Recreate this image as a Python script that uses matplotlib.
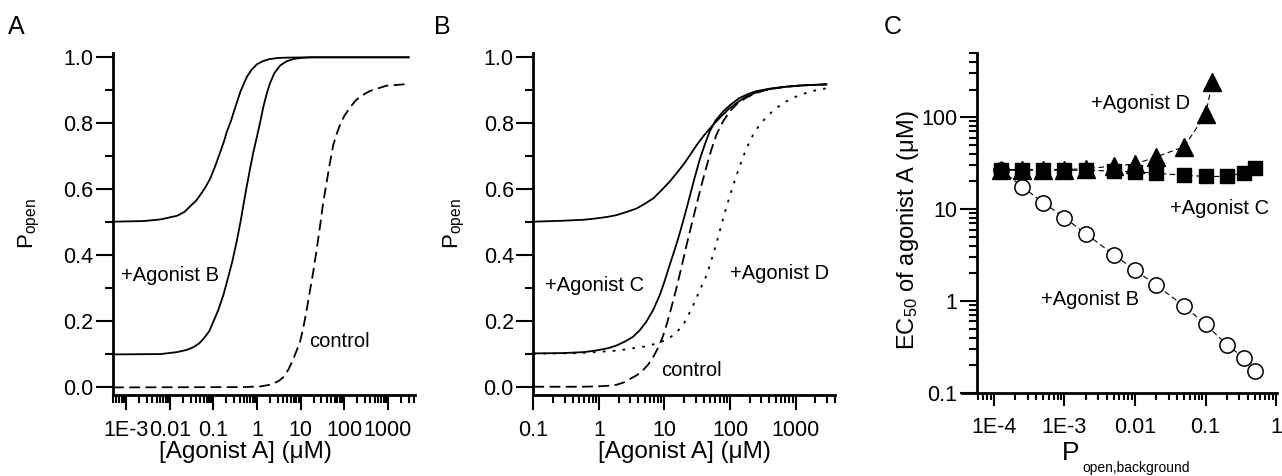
import matplotlib
matplotlib.use("Agg")
import matplotlib.pyplot as plt
import matplotlib.ticker as mticker

plt.rcParams["font.family"] = ["Liberation Sans", "DejaVu Sans"]
plt.rcParams["mathtext.fontset"] = "custom"
plt.rcParams["mathtext.rm"] = "Liberation Sans"
plt.rcParams["mathtext.it"] = "Liberation Sans:italic"

# ---- panel A: agonist B ----
a_x_b50 = [5e-4, 2.6e-3, 6.2e-3, 0.0148, 0.022, 0.03, 0.04, 0.05, 0.065, 0.085, 0.11, 0.145, 0.175,
           0.204, 0.25, 0.295, 0.35, 0.417, 0.5, 0.589, 0.75, 1.0, 1.35, 1.86, 3, 5, 20, 3000]
a_y_b50 = [0.502, 0.504, 0.509, 0.52, 0.532, 0.55, 0.565, 0.583, 0.605, 0.633, 0.67, 0.714, 0.745,
           0.775, 0.805, 0.835, 0.865, 0.896, 0.92, 0.941, 0.962, 0.979, 0.988, 0.994, 0.998, 0.999, 1.0, 1.0]
a_x_b10 = [5e-4, 6.2e-3, 0.0148, 0.025, 0.035, 0.047, 0.06, 0.08, 0.1, 0.13, 0.17, 0.21, 0.27, 0.34,
           0.42, 0.5, 0.59, 0.7, 0.83, 1.0, 1.19, 1.4, 1.7, 2.0, 2.5, 3.4, 4.8, 6.9, 10, 16.6, 3000]
a_y_b10 = [0.1, 0.101, 0.107, 0.114, 0.122, 0.133, 0.148, 0.17, 0.199, 0.235, 0.28, 0.325, 0.38, 0.44,
           0.502, 0.56, 0.613, 0.665, 0.714, 0.76, 0.805, 0.85, 0.893, 0.922, 0.952, 0.975, 0.988, 0.995,
           0.998, 1.0, 1.0]
a_x_ctrl = [5e-4, 0.5, 1.19, 1.8, 2.4, 3.2, 4.1, 5.3, 6.9, 8.3, 9.8, 11.7, 13.8, 16.5, 19.5, 23.5, 28,
            33, 40, 47, 56, 68, 80, 100, 136, 180, 230, 390, 930, 3000]
a_y_ctrl = [0.0, 0.001, 0.003, 0.007, 0.012, 0.02, 0.032, 0.055, 0.088, 0.115, 0.14, 0.185, 0.235,
            0.295, 0.35, 0.42, 0.49, 0.56, 0.625, 0.68, 0.734, 0.77, 0.795, 0.822, 0.848, 0.868, 0.881,
            0.898, 0.914, 0.919]

# ---- panel B: agonists C and D ----
b_x_top = [0.1, 0.29, 0.6, 0.92, 1.4, 1.86, 2.7, 3.77, 5, 6.8, 9, 12, 15.5, 20, 25, 31, 40, 55, 75,
           98, 135, 178, 240, 324, 480, 724, 1300, 2950]
b_y_top = [0.502, 0.505, 0.508, 0.512, 0.517, 0.522, 0.532, 0.542, 0.556, 0.573, 0.597, 0.623, 0.65,
           0.678, 0.706, 0.734, 0.763, 0.795, 0.823, 0.845, 0.866, 0.881, 0.892, 0.90, 0.906, 0.911,
           0.915, 0.918]
b_x_c = [0.1, 0.29, 0.6, 0.92, 1.4, 1.86, 2.5, 3.3, 4.2, 5.3, 6.8, 8.5, 10, 12, 14.5, 17, 20, 23, 28,
         35, 42, 49, 60, 78, 100, 138, 190, 250, 400, 724, 1300, 2950]
b_y_c = [0.103, 0.104, 0.107, 0.112, 0.119, 0.127, 0.139, 0.153, 0.173, 0.199, 0.236, 0.28, 0.32, 0.37,
         0.42, 0.465, 0.515, 0.56, 0.625, 0.694, 0.74, 0.775, 0.808, 0.835, 0.855, 0.876, 0.889, 0.897,
         0.905, 0.911, 0.915, 0.918]
b_x_ctrl = [0.1, 0.5, 0.92, 1.4, 1.86, 2.4, 2.95, 3.8, 4.7, 5.7, 6.8, 8, 9.5, 11, 12.5, 15, 17.5, 19.5,
            22, 25, 31, 37, 44, 52, 62, 78, 98, 130, 178, 240, 324, 480, 724, 1300, 2950]
b_y_ctrl = [0.002, 0.002, 0.003, 0.005, 0.008, 0.015, 0.025, 0.037, 0.052, 0.07, 0.093, 0.12, 0.155,
            0.195, 0.235, 0.295, 0.35, 0.39, 0.435, 0.48, 0.555, 0.615, 0.67, 0.72, 0.765, 0.805, 0.835,
            0.86, 0.878, 0.89, 0.899, 0.906, 0.911, 0.915, 0.918]
b_x_d = [0.1, 0.5, 0.92, 2, 2.95, 5, 7.6, 10, 12, 15, 17, 20, 23, 27, 33, 44, 52, 62, 73, 87, 105, 126,
         150, 178, 225, 282, 370, 500, 700, 1020, 1600, 2340, 3000]
b_y_d = [0.102, 0.104, 0.107, 0.112, 0.117, 0.124, 0.133, 0.142, 0.15, 0.165, 0.177, 0.195, 0.218,
         0.245, 0.285, 0.34, 0.385, 0.435, 0.488, 0.542, 0.595, 0.643, 0.685, 0.724, 0.765, 0.795, 0.822,
         0.845, 0.865, 0.881, 0.895, 0.903, 0.906]

# ---- panel C: EC50 vs background open probability ----
p_bg = [1.25e-4, 2.5e-4, 5e-4, 1e-3, 2e-3, 5e-3, 0.01, 0.02, 0.05, 0.1, 0.2, 0.35, 0.5]
ec50_b = [27, 17.6, 11.8, 8.1, 5.4, 3.2, 2.18, 1.49, 0.88, 0.557, 0.337, 0.24, 0.173]
ec50_c = [26.5, 26.5, 26.5, 26.5, 26.5, 26, 25.5, 24.6, 23.4, 22.7, 22.7, 25, 28]
p_bg_d = [1.25e-4, 2.5e-4, 5e-4, 1e-3, 2e-3, 5e-3, 0.01, 0.02, 0.05, 0.1, 0.125]
ec50_d = [27, 27, 27, 27, 27.5, 29.5, 31, 37, 48, 108, 240]

W, H = 1282, 476
fig = plt.figure(figsize=(W / 100, H / 100), dpi=100)


def px_axes(left, right, top, bottom):
    return fig.add_axes([left / W, 1 - bottom / H, (right - left) / W, (bottom - top) / H])


def style(ax, xmaj=11, xmin=6, xpad=7):
    for s in ["top", "right"]:
        ax.spines[s].set_visible(False)
    for s in ["left", "bottom"]:
        ax.spines[s].set_linewidth(2.0)
    ax.tick_params(axis="both", which="both", direction="out", width=1.5, labelsize=15.5)
    ax.tick_params(axis="y", which="major", length=12, pad=2)
    ax.tick_params(axis="y", which="minor", length=6)
    ax.tick_params(axis="x", which="major", length=xmaj, pad=xpad)
    ax.tick_params(axis="x", which="minor", length=xmin)


lw = 1.3
dash = (0, (6, 3))
dot = (0, (1.5, 4))
ylab = r"$\mathregular{P_{open}}$"
xlab = "[Agonist A] (\u03bcM)"
txt = dict(fontsize=14.5)

# Panel A
axA = px_axes(113, 415, 53, 395)
axA.plot(a_x_b50, a_y_b50, "k-", lw=lw)
axA.plot(a_x_b10, a_y_b10, "k-", lw=lw)
axA.plot(a_x_ctrl, a_y_ctrl, "k", lw=lw, linestyle=dash)
axA.set_xscale("log")
axA.set_xlim(5e-4, 4200)
axA.set_ylim(-0.023, 1.013)
axA.set_xticks([1e-3, 1e-2, 0.1, 1, 10, 100, 1000])
axA.set_xticklabels(["1E-3", "0.01", "0.1", "1", "10", "100", "1000"])
axA.xaxis.set_minor_locator(mticker.LogLocator(base=10, subs=range(2, 10), numticks=20))
axA.xaxis.set_minor_formatter(mticker.NullFormatter())
axA.set_yticks([0, 0.2, 0.4, 0.6, 0.8, 1.0])
axA.set_yticklabels(["0.0", "0.2", "0.4", "0.6", "0.8", "1.0"])
axA.yaxis.set_minor_locator(mticker.MultipleLocator(0.1))
style(axA)
axA.set_ylabel(ylab, fontsize=16)
axA.yaxis.set_label_coords(-0.235, 0.5)
axA.set_xlabel(xlab, fontsize=17.5)
axA.xaxis.set_label_coords(0.44, -0.135)
axA.text(7.5e-4, 0.34, "+Agonist B", ha="left", va="center", **txt)
axA.text(16, 0.138, "control", ha="left", va="center", **txt)

# Panel B
axB = px_axes(533.3, 835, 53, 395)
axB.plot(b_x_top, b_y_top, "k-", lw=lw)
axB.plot(b_x_c, b_y_c, "k-", lw=lw)
axB.plot(b_x_ctrl, b_y_ctrl, "k", lw=lw, linestyle=dash)
axB.plot(b_x_d, b_y_d, "k", lw=lw, linestyle=dot)
axB.set_xscale("log")
axB.set_xlim(0.1, 4000)
axB.set_ylim(-0.023, 1.013)
axB.set_xticks([0.1, 1, 10, 100, 1000])
axB.set_xticklabels(["0.1", "1", "10", "100", "1000"])
axB.xaxis.set_minor_locator(mticker.LogLocator(base=10, subs=range(2, 10), numticks=20))
axB.xaxis.set_minor_formatter(mticker.NullFormatter())
axB.set_yticks([0, 0.2, 0.4, 0.6, 0.8, 1.0])
axB.set_yticklabels(["0.0", "0.2", "0.4", "0.6", "0.8", "1.0"])
axB.yaxis.set_minor_locator(mticker.MultipleLocator(0.1))
style(axB)
axB.set_ylabel(ylab, fontsize=16)
axB.yaxis.set_label_coords(-0.22, 0.5)
axB.set_xlabel(xlab, fontsize=17.5)
axB.xaxis.set_label_coords(0.5, -0.135)
axB.text(0.15, 0.31, "+Agonist C", ha="left", va="center", **txt)
axB.text(100, 0.346, "+Agonist D", ha="left", va="center", **txt)
axB.text(9, 0.052, "control", ha="left", va="center", **txt)

# Panel C
axC = px_axes(977, 1277, 53, 393)
lk = dict(color="k", lw=0.8, linestyle=(0, (5, 3)))
axC.plot(p_bg, ec50_b, marker="o", ms=11, mfc="white", mec="k", mew=1.1, **lk)
axC.plot(p_bg, ec50_c, marker="s", ms=10, mfc="k", mec="k", **lk)
axC.plot(p_bg_d, ec50_d, marker="^", ms=13, mfc="k", mec="k", **lk)
axC.set_xscale("log")
axC.set_yscale("log")
axC.set_xlim(5.75e-5, 1.03)
axC.set_ylim(0.1, 500)
axC.set_xticks([1e-4, 1e-3, 1e-2, 0.1, 1])
axC.set_xticklabels(["1E-4", "1E-3", "0.01", "0.1", "1"])
axC.set_yticks([0.1, 1, 10, 100])
axC.set_yticklabels(["0.1", "1", "10", "100"])
for a in (axC.xaxis, axC.yaxis):
    a.set_minor_locator(mticker.LogLocator(base=10, subs=range(2, 10), numticks=20))
    a.set_minor_formatter(mticker.NullFormatter())
style(axC, xmaj=9, xmin=5, xpad=8)
axC.axhline(0.1, xmin=-0.05, xmax=0, color="k", lw=2.0, clip_on=False)
axC.set_ylabel("EC$_{\\mathregular{50}}$ of agonist A (\u03bcM)", fontsize=17)
axC.yaxis.set_label_coords(-0.185, 0.48)
axC.text(0.283, -0.14, "P", transform=axC.transAxes, fontsize=19, ha="left", va="top")
axC.text(0.35, -0.2, "open,background", transform=axC.transAxes, fontsize=10, ha="left", va="top")
axC.text(2.35e-3, 142, "+Agonist D", ha="left", va="center", **txt)
axC.text(0.031, 10.2, "+Agonist C", ha="left", va="center", **txt)
axC.text(4.6e-4, 1.04, "+Agonist B", ha="left", va="center", **txt)

# panel letters
for lx, letter in [(8, "A"), (434, "B"), (884, "C")]:
    fig.text(lx / W, 1 - 27 / H, letter, fontsize=18, ha="left", va="center")

fig.savefig("out.png", dpi=100)
